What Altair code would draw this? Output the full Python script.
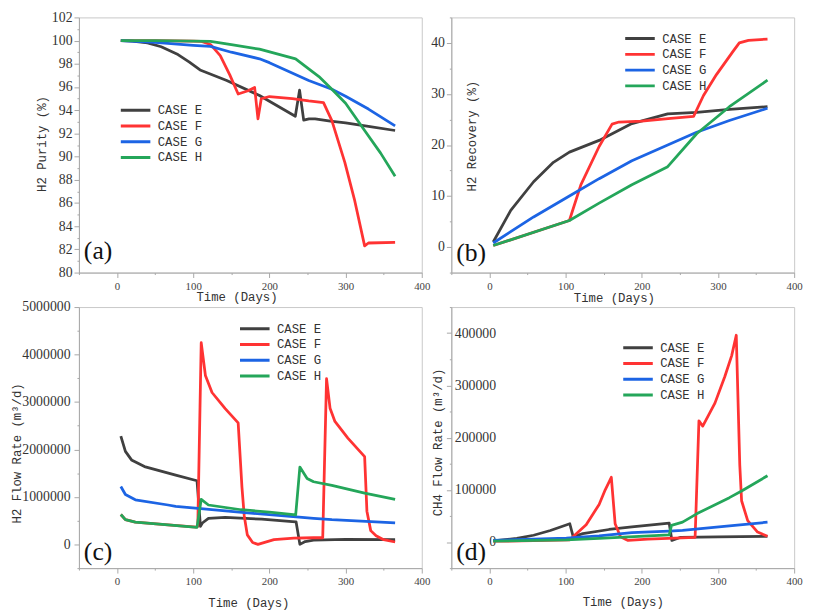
import altair as alt
import pandas as pd

CASES = ["CASE E", "CASE F", "CASE G", "CASE H"]
COLORS = ["#404040", "#ff3333", "#1c64e4", "#24a65a"]
TIME_TICKS = list(range(-50, 401, 50))

# ---------------- (a) H2 Purity (%) ----------------
a_E_t = [5, 20, 40, 58, 80, 95, 109, 144, 187, 234, 239.6, 245, 252, 260, 280, 300, 330, 365]
a_E_v = [100.0, 99.95, 99.8, 99.47, 98.8, 98.15, 97.47, 96.56, 95.27, 93.48, 95.73, 93.15, 93.25, 93.25, 93.05, 92.9, 92.6, 92.25]
a_F_t = [5, 50, 100, 110, 122.6, 135.5, 148, 159, 172, 180.6, 185, 189.3, 200, 230, 251.6, 271, 282, 299, 312, 325, 330, 365]
a_F_v = [100.0, 100.0, 99.95, 99.94, 99.67, 98.7, 97.05, 95.4, 95.68, 95.96, 93.26, 94.99, 95.18, 95.0, 94.8, 94.65, 93.1, 89.5, 86.2, 82.3, 82.55, 82.6]
a_G_t = [5, 50, 100, 122.6, 150, 187, 200, 251.6, 282, 300, 330, 365]
a_G_v = [100.0, 99.85, 99.6, 99.5, 99.0, 98.43, 98.1, 96.56, 95.8, 95.2, 94.1, 92.65]
a_H_t = [5, 50, 100, 122.6, 150, 187, 234.4, 265, 282, 300, 325, 346, 365]
a_H_v = [100.0, 100.0, 99.95, 99.94, 99.65, 99.26, 98.43, 96.9, 95.8, 94.6, 92.25, 90.3, 88.3]

# ---------------- (b) H2 Recovery (%) ----------------
b_E_t = [5, 28, 58, 84, 105, 144, 187, 234, 272, 315, 365]
b_E_v = [1.0, 7.2, 12.8, 16.6, 18.6, 20.9, 24.2, 26.1, 26.4, 27.0, 27.5]
b_F_t = [5, 105, 120, 144, 161, 170, 200, 238, 268, 281, 298, 320, 328, 340, 365]
b_F_v = [0.3, 5.2, 12.2, 19.7, 24.1, 24.5, 24.7, 25.2, 25.6, 29.7, 33.8, 38.4, 40.0, 40.5, 40.75]
b_G_t = [5, 58, 105, 144, 187, 234, 272, 315, 365]
b_G_v = [0.8, 5.9, 10.0, 13.4, 16.9, 20.0, 22.5, 24.8, 27.2]
b_H_t = [5, 105, 144, 187, 234, 272, 315, 365]
b_H_v = [0.3, 5.2, 8.6, 12.2, 15.75, 22.2, 27.5, 32.7]

# ---------------- (c) H2 Flow Rate (m3/d) ----------------
c_E_t = [5, 11, 19, 36, 77, 105, 109.5, 112, 120, 142, 190, 230, 235, 240, 247, 258, 300, 365]
c_E_v = [2280000, 1960000, 1780000, 1640000, 1460000, 1340000, 380000, 450000, 550000, 570000, 530000, 480000, 475000, 0, 60000, 90000, 105000, 100000]
c_F_t = [5, 11, 24, 67, 104, 106, 110.5, 116, 124.7, 142, 159, 164, 167, 171, 178, 185, 206, 232, 258, 270, 275, 279.6, 286, 303, 325, 328, 333, 340, 350, 365]
c_F_v = [630000, 520000, 470000, 410000, 365000, 380000, 4250000, 3560000, 3200000, 2860000, 2560000, 1200000, 600000, 200000, 40000, 0, 100000, 130000, 140000, 140000, 3490000, 2870000, 2590000, 2240000, 1850000, 700000, 290000, 180000, 100000, 50000]
c_G_t = [5, 11, 24, 67, 77, 110, 153, 196, 239, 258, 282, 365]
c_G_v = [1220000, 1050000, 940000, 830000, 800000, 755000, 690000, 630000, 575000, 550000, 520000, 455000]
c_H_t = [5, 11, 24, 67, 105, 110.5, 120, 163, 200, 234.5, 240, 249.5, 258, 282, 325, 365]
c_H_v = [630000, 520000, 470000, 410000, 360000, 950000, 830000, 730000, 680000, 620000, 1630000, 1390000, 1320000, 1245000, 1080000, 950000]

# ---------------- (d) CH4 Flow Rate (m3/d) ----------------
d_E_t = [5, 36, 58, 80, 105.5, 110, 122.6, 157, 187, 236, 239.5, 251, 300, 365]
d_E_v = [2000, 7000, 13000, 22000, 35000, 10000, 16000, 24000, 29000, 36000, 3000, 9000, 10000, 11000]
d_F_t = [5, 58, 105, 109, 127, 144, 152, 160, 165, 172, 182, 208, 270, 275, 280, 296, 309, 318, 324, 328.6, 331, 339, 352, 365]
d_F_v = [1500, 2500, 4000, 9000, 33000, 72000, 100000, 124000, 35000, 10000, 3000, 5500, 9000, 232000, 222000, 266000, 317000, 357000, 396000, 148000, 79000, 41000, 19000, 11000]
d_G_t = [5, 101, 144, 187, 236, 253.5, 315, 365]
d_G_v = [3000, 7500, 12000, 18000, 21000, 22500, 31000, 38000]
d_H_t = [5, 101, 144, 236, 239, 253.5, 272, 315, 331, 365]
d_H_v = [1500, 4000, 7000, 13500, 32000, 38000, 54000, 85000, 97600, 127000]


def series_frame(tlists, vlists):
    rows = []
    for case, ts, vs in zip(CASES, tlists, vlists):
        for i, (t, v) in enumerate(zip(ts, vs)):
            rows.append({"t": t, "v": v, "case": case, "i": i})
    return pd.DataFrame(rows)


def cond(test, a, b):
    return {"condition": {"test": test, "value": a}, "value": b}


def panel(df, letter, ydom, ystep, ymajor, ytitle, ytitle_x, ytitle_y, ylab_pad,
          xtitle_x, xtitle_y, leg_x, leg_y, leg_clip, letter_y, h):
    xaxis = alt.Axis(
        values=TIME_TICKS,
        labelExpr="datum.value % 100 === 0 ? datum.label : ''",
        tickSize=cond("datum.value % 100 === 0", 5, 2),
        labelFont="Liberation Serif", labelFontSize=11, labelColor="#444444",
        labelPadding=3, labelFlush=False, labelOverlap=False,
        title="Time (Days)", titleFont="Liberation Mono", titleFontSize=12.5,
        titleFontWeight="normal", titleColor="#333333",
        titleX=xtitle_x, titleY=xtitle_y, titleBaseline="middle", titleAlign="center",
        grid=False,
    )
    yvals = list(range(ydom[0], ydom[1] + 1, ystep))
    maj = f"datum.value % {ymajor} === 0"
    yaxis = alt.Axis(
        values=yvals,
        labelExpr=f"{maj} ? datum.label : ''",
        format="d",
        tickSize=cond(maj, 5, 2),
        labelFont="Liberation Serif", labelFontSize=14, labelColor="#333333",
        labelPadding=ylab_pad, labelOverlap=False, labelFlush=False,
        title=ytitle, titleFont="Liberation Mono", titleFontSize=12.5,
        titleFontWeight="normal", titleColor="#333333",
        titleX=ytitle_x, titleY=ytitle_y, titleAngle=270,
        titleBaseline="middle", titleAlign="center",
        grid=False,
    )
    lines = alt.Chart(df).mark_line(strokeWidth=2.8, strokeJoin="round").encode(
        x=alt.X("t:Q", scale=alt.Scale(domain=[-50, 400], nice=False, zero=False), axis=xaxis),
        y=alt.Y("v:Q", scale=alt.Scale(domain=list(ydom), nice=False, zero=False), axis=yaxis),
        color=alt.Color(
            "case:N",
            scale=alt.Scale(domain=CASES, range=COLORS),
            legend=alt.Legend(
                orient="none", legendX=leg_x, legendY=leg_y, title=None,
                symbolType="stroke", symbolSize=900, symbolStrokeWidth=3,
                labelFont="Liberation Mono", labelFontSize=12.5, labelColor="#333333",
                clipHeight=leg_clip, rowPadding=0, labelOffset=6, padding=0,
            ),
        ),
        order="i:Q",
    )
    txt = alt.Chart(pd.DataFrame({"lab": [letter]})).mark_text(
        font="Liberation Serif", fontSize=26, align="left", baseline="alphabetic", color="#111111"
    ).encode(text="lab:N", x=alt.value(5), y=alt.value(letter_y))
    return alt.layer(lines, txt).properties(width=348, height=h)


pa = panel(series_frame([a_E_t, a_F_t, a_G_t, a_H_t], [a_E_v, a_F_v, a_G_v, a_H_v]),
           "(a)", (80, 102), 1, 2, "H2 Purity (%)", -38, 128, 2,
           160, 24, 41, 86.5, 15.3, 245, 259)
pb = panel(series_frame([b_E_t, b_F_t, b_G_t, b_H_t], [b_E_v, b_F_v, b_G_v, b_H_v]),
           "(b)", (-5, 45), 5, 10, "H2 Recovery (%)", 21, 120, 2,
           165, 25, 175, 13.6, 15.8, 247, 259)
pc = panel(series_frame([c_E_t, c_F_t, c_G_t, c_H_t], [c_E_v, c_F_v, c_G_v, c_H_v]),
           "(c)", (-500000, 5000000), 500000, 1000000, "H2 Flow Rate (m³/d)", -63, 148, 4,
           172, 35, 162, 14.3, 15.3, 257, 265)
pd_ = panel(series_frame([d_E_t, d_F_t, d_G_t, d_H_t], [d_E_v, d_F_v, d_G_v, d_H_v]),
            "(d)", (-50000, 450000), 50000, 100000, "CH4 Flow Rate (m³/d)", -14, 137, -50,
            174, 34, 173, 33.6, 15.3, 257, 265)

chart = alt.concat(
    pa, pb, pc, pd_, columns=2,
    spacing=alt.RowColnumber(row=35, column=30), bounds="flush",
).resolve_legend(color="independent").properties(
    padding={"left": 2, "top": -3, "right": 2, "bottom": 0}
).configure_view(stroke="#c8c8c8", strokeWidth=1).configure_axis(
    domainColor="#a8a8a8", tickColor="#a8a8a8"
)

chart.save("out.html", embed_options={"renderer": "svg", "actions": False})
